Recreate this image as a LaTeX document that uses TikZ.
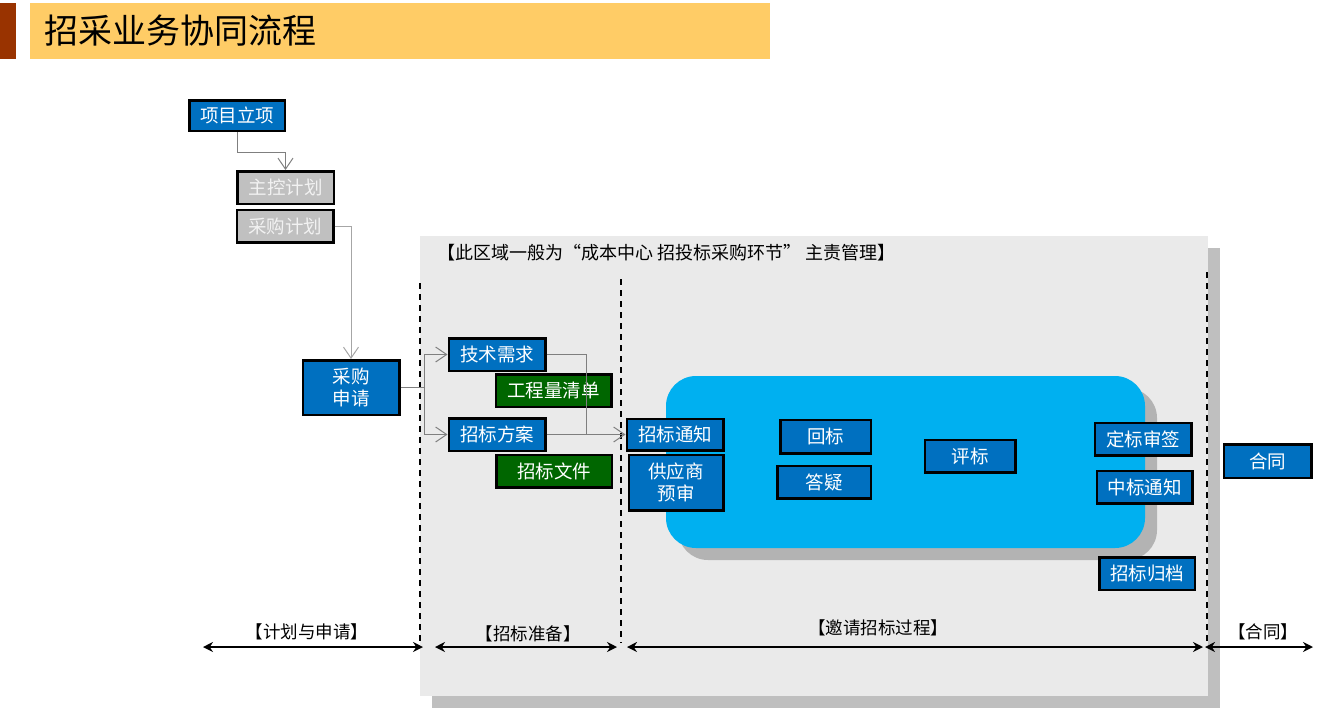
\documentclass[tikz,border=0pt]{standalone}
\usepackage{fontspec}
\setmainfont{Noto Sans CJK SC}
\usetikzlibrary{arrows.meta}
\definecolor{hdred}{HTML}{993300}
\definecolor{hdyellow}{HTML}{FFCC66}
\definecolor{boxblue}{HTML}{0070C0}
\definecolor{plangrey}{HTML}{C0C0C0}
\definecolor{plantext}{HTML}{F2F2F2}
\definecolor{docgreen}{HTML}{006600}
\definecolor{panelcyan}{HTML}{00B0F0}
\definecolor{panelshadow}{HTML}{B3B3B3}
\definecolor{regiongrey}{HTML}{EAEAEA}
\definecolor{regionshadow}{HTML}{BFBFBF}
\definecolor{conngrey}{HTML}{7F7F7F}
\definecolor{connlight}{HTML}{A6A6A6}

\begin{document}
\begin{tikzpicture}[x=1pt,y=-1pt,
  box/.style={draw=black,line width=2.5pt,fill=boxblue,text=white,inner sep=0pt,
    minimum width=96.5pt,minimum height=32.5pt,align=center,
    font=\fontsize{18.5}{22}\selectfont},
  plan/.style={box,fill=plangrey,text=plantext},
  doc/.style={box,fill=docgreen,minimum width=115.5pt},
  conn/.style={draw=conngrey,line width=1pt,-{Straight Barb[length=11pt,width=15pt]}},
  span/.style={line width=2pt,{Stealth[length=10pt,width=10pt]}-{Stealth[length=10pt,width=10pt]}},
  sep/.style={line width=2.5pt,dash pattern=on 6pt off 5pt},
  lbl/.style={inner sep=0pt,font=\fontsize{17.5}{20}\selectfont}]
  \useasboundingbox (0,0) rectangle (1327,710);

  \fill[hdred] (0,3) rectangle (16,59);
  \fill[hdyellow] (30,3) rectangle (770,59);
  \node[anchor=west,inner sep=0pt,font=\fontsize{34}{36}\selectfont] (title) at (44,31) {招采业务协同流程};

  \fill[regionshadow] (432,248) rectangle (1220,708);
  \fill[regiongrey] (420,236) rectangle (1208,696);
  \node[anchor=west,inner sep=0pt,font=\fontsize{18}{20}\selectfont] (quyu) at (437,253)
    {【此区域一般为“成本中心 招投标采购环节” 主责管理】};
  \foreach \x/\y in {420/283,621/279,1207/272}
    \draw[sep] (\x,\y) -- (\x,643);

  \fill[panelshadow,rounded corners=30pt] (678,388) rectangle (1157,560);
  \fill[panelcyan,rounded corners=30pt] (666,376) rectangle (1145,548);

  \node[box,minimum width=95.5pt,minimum height=30.5pt] (lixiang) at (237,115.5) {项目立项};
  \node[plan] (zhukong) at (285.5,187.5) {主控计划};
  \node[plan] (jihua) at (285,226) {采购计划};
  \node[box,minimum height=54.5pt] (shenqing) at (351,387.5) {采购\\申请};
  \node[box] (jishu) at (497,354.5) {技术需求};
  \node[doc] (qingdan) at (553.5,390.5) {工程量清单};
  \node[box] (fangan) at (497,434.5) {招标方案};
  \node[doc] (wenjian) at (554,471) {招标文件};
  \node[box,minimum height=31.5pt] (tongzhi) at (675,434.5) {招标通知};
  \node[box,minimum width=94.5pt,minimum height=55.5pt] (yushen) at (676,482.5) {供应商\\预审};
  \node[box,minimum width=90.5pt,minimum height=33.5pt] (huibiao) at (825.5,436.5) {回标};
  \node[box,minimum width=93.5pt] (dayi) at (824,482) {答疑};
  \node[box,minimum width=90.5pt] (pingbiao) at (970,456) {评标};
  \node[box] (shenqian) at (1143,439) {定标审签};
  \node[box,minimum width=95.5pt] (zhongbiao) at (1144.5,487) {中标通知};
  \node[box,minimum width=95.5pt] (guidang) at (1147,573.5) {招标归档};
  \node[box,minimum width=87.5pt,minimum height=33.5pt] (hetong) at (1267.5,461) {合同};

  \coordinate (fork1) at (424,387.5);
  \coordinate (fork2) at (586,434.5);
  \draw[conn] (lixiang.south) -- ++(0,20) -| (zhukong.north);
  \draw[conn,draw=connlight] (jihua.east) -| (shenqing.north);
  \draw[conn] (shenqing.east) -- (fork1) |- (jishu.west);
  \draw[conn] (fork1) |- (fangan.west);
  \draw[conn] (jishu.east) -| (fork2) -- (tongzhi.west);
  \draw[conn,-] (fangan.east) -- (fork2);

  \coordinate (a0) at (203,647);
  \coordinate (a1) at (423,647);
  \coordinate (b0) at (435,647);
  \coordinate (b1) at (617,647);
  \coordinate (c0) at (627,647);
  \coordinate (c1) at (1203,647);
  \coordinate (d0) at (1205,647);
  \coordinate (d1) at (1313,647);
  \draw[span] (a0) -- (a1);
  \draw[span] (b0) -- (b1);
  \draw[span] (c0) -- (c1);
  \draw[span] (d0) -- (d1);
  \node[lbl] (l1) at (307,632) {【计划与申请】};
  \node[lbl] (l2) at (528,634) {【招标准备】};
  \node[lbl] (l3) at (878,628) {【邀请招标过程】};
  \node[lbl] (l4) at (1263,632) {【合同】};
\end{tikzpicture}
\end{document}
